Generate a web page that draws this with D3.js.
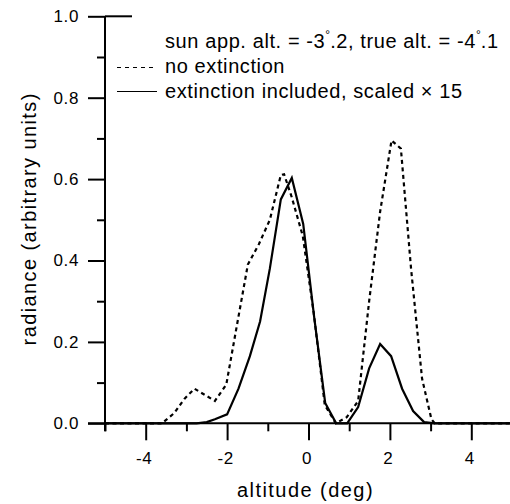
<!DOCTYPE html>
<html>
<head>
<meta charset="utf-8">
<script src="https://cdn.jsdelivr.net/npm/d3@7"></script>
<style>
  body { margin: 0; background: #fff; }
  #chart { width: 510px; height: 504px; }
  text { font-family: "Liberation Sans", Arial, Helvetica, sans-serif; fill: #000; }
</style>
</head>
<body>
<div id="chart"></div>
<script>

// no extinction (dashed)
const noExtAlt = [-5, -3.6, -3.3, -3.05, -2.8, -2.55, -2.3, -2.02, -1.76, -1.49, -1.22, -0.95, -0.68, -0.6, -0.41, -0.14, 0.13, 0.4, 0.67, 0.94, 1.22, 1.49, 1.76, 2.04, 2.27, 2.52, 2.79, 3.02, 3.1, 5];
const noExtRad = [0, 0, 0.025, 0.06, 0.085, 0.07, 0.055, 0.095, 0.24, 0.39, 0.44, 0.5, 0.61, 0.612, 0.555, 0.46, 0.27, 0.045, 0, 0.015, 0.055, 0.3, 0.52, 0.695, 0.675, 0.38, 0.11, 0.01, 0, 0];

// extinction included, scaled x 15 (solid)
const extAlt = [-5, -3.0, -2.75, -2.5, -2.3, -2.0, -1.72, -1.44, -1.19, -0.95, -0.68, -0.41, -0.13, 0.14, 0.41, 0.68, 0.95, 1.22, 1.49, 1.76, 2.03, 2.3, 2.57, 2.84, 3.1, 5];
const extRad = [0, 0, 0, 0.003, 0.01, 0.022, 0.085, 0.165, 0.25, 0.38, 0.55, 0.603, 0.49, 0.26, 0.05, 0, 0, 0.04, 0.135, 0.195, 0.165, 0.085, 0.03, 0.003, 0, 0];

const xMajor = [-4, -2, 0, 2, 4];
const xMinor = [-5, -3, -1, 1, 3, 5];
const yMajor = [0, 0.2, 0.4, 0.6, 0.8, 1.0];
const yMinor = [0.1, 0.3, 0.5, 0.7, 0.9];

class RadianceViz {

    constructor(_parentElement) {
        this.parentElement = _parentElement;
        this.initVis();
    }

    initVis() {
        let vis = this;

        vis.margin = { top: 16.3, right: -2, bottom: 80.7, left: 105 };
        vis.width = 510 - vis.margin.left - vis.margin.right;
        vis.height = 504 - vis.margin.top - vis.margin.bottom;

        vis.svg = d3.select("#" + vis.parentElement).append("svg")
            .attr("width", 510)
            .attr("height", 504)
            .append("g")
            .attr("transform", "translate(" + vis.margin.left + "," + vis.margin.top + ")");

        vis.x = d3.scaleLinear().domain([-5, 5]).range([0, vis.width]);
        vis.y = d3.scaleLinear().domain([0, 1]).range([vis.height, 0]);

        // minor ticks
        vis.svg.append("g")
            .attr("class", "axis")
            .attr("transform", "translate(0," + vis.height + ")")
            .call(d3.axisBottom(vis.x).tickValues(xMinor).tickSize(8).tickFormat(""));
        vis.svg.append("g")
            .attr("class", "axis")
            .call(d3.axisLeft(vis.y).tickValues(yMinor).tickSize(8).tickFormat(""));

        // major ticks
        vis.svg.append("g")
            .attr("class", "axis x-axis")
            .attr("transform", "translate(0," + vis.height + ")")
            .call(d3.axisBottom(vis.x).tickValues(xMajor).tickSize(17).tickPadding(12)
                .tickFormat(d => d3.format("d")(d).replace("−", "-")));
        vis.svg.append("g")
            .attr("class", "axis y-axis")
            .call(d3.axisLeft(vis.y).tickValues(yMajor).tickSize(17).tickPadding(9)
                .tickFormat(d3.format(".1f")));

        vis.svg.selectAll(".axis .domain").remove();
        vis.svg.selectAll(".axis line").attr("stroke", "#000").attr("stroke-width", 2);
        vis.svg.selectAll(".axis text").style("font-size", "17px")
            .style("letter-spacing", "0.6px")
            .style("font-family", "'Liberation Sans', Arial, sans-serif").attr("fill", "#000");
        vis.svg.selectAll(".x-axis text").attr("dx", "-2px");

        // axis lines
        vis.svg.append("line")
            .attr("x1", -17).attr("x2", vis.x(5))
            .attr("y1", vis.y(0)).attr("y2", vis.y(0))
            .attr("stroke", "#000").attr("stroke-width", 2);
        vis.svg.append("line")
            .attr("x1", 0).attr("x2", 0)
            .attr("y1", vis.y(1)).attr("y2", vis.y(0) + 8)
            .attr("stroke", "#000").attr("stroke-width", 2);
        vis.svg.append("line")
            .attr("x1", 0).attr("x2", 27)
            .attr("y1", vis.y(1)).attr("y2", vis.y(1))
            .attr("stroke", "#000").attr("stroke-width", 2);

        // axis titles
        vis.svg.append("text")
            .attr("x", vis.x(0) - 3)
            .attr("y", 481)
            .attr("text-anchor", "middle")
            .style("font-size", "20px")
            .style("letter-spacing", "1.45px")
            .text("altitude (deg)");

        vis.svg.append("text")
            .attr("transform", "translate(-69," + (vis.y(0.5) - 1) + ") rotate(-90)")
            .attr("text-anchor", "middle")
            .style("font-size", "20px")
            .style("letter-spacing", "1.4px")
            .text("radiance (arbitrary units)");

        vis.line = d3.line()
            .x(d => vis.x(d[0]))
            .y(d => vis.y(d[1]));

        vis.wrangleData();
    }

    wrangleData() {
        let vis = this;
        vis.noExt = noExtAlt.map((a, i) => [a, noExtRad[i]]);
        vis.ext = extAlt.map((a, i) => [a, extRad[i]]);
        vis.updateVis();
    }

    updateVis() {
        let vis = this;

        vis.svg.append("path")
            .datum(vis.noExt)
            .attr("fill", "none")
            .attr("stroke", "#000")
            .attr("stroke-width", 2.2)
            .attr("stroke-dasharray", "4,3.5")
            .attr("d", vis.line);

        vis.svg.append("path")
            .datum(vis.ext)
            .attr("fill", "none")
            .attr("stroke", "#000")
            .attr("stroke-width", 2.2)
            .attr("d", vis.line);

        // legend
        let lg = vis.svg.append("g").attr("transform", "translate(-105,-16.3)")
            .style("font-size", "20px")
            .style("letter-spacing", "0.6px");
        let t1 = lg.append("text").attr("x", 165).attr("y", 48);
        t1.append("tspan").text("sun app. alt. = -3");
        t1.append("tspan").attr("dy", -9).style("font-size", "12px").style("letter-spacing", "0px").text("°");
        t1.append("tspan").attr("dy", 9).text(".2, true alt. = -4");
        t1.append("tspan").attr("dy", -9).style("font-size", "12px").style("letter-spacing", "0px").text("°");
        t1.append("tspan").attr("dy", 9).text(".1");

        lg.append("line")
            .attr("x1", 117).attr("x2", 157).attr("y1", 67.5).attr("y2", 67.5)
            .attr("stroke", "#000").attr("stroke-width", 1.2).attr("stroke-dasharray", "4,4");
        lg.append("text").attr("x", 165).attr("y", 73).text("no extinction");

        lg.append("line")
            .attr("x1", 117).attr("x2", 157).attr("y1", 91.5).attr("y2", 91.5)
            .attr("stroke", "#000").attr("stroke-width", 1.2);
        lg.append("text").attr("x", 165).attr("y", 97.5).text("extinction included, scaled × 15");
    }
}

new RadianceViz("chart");
</script>
</body>
</html>
